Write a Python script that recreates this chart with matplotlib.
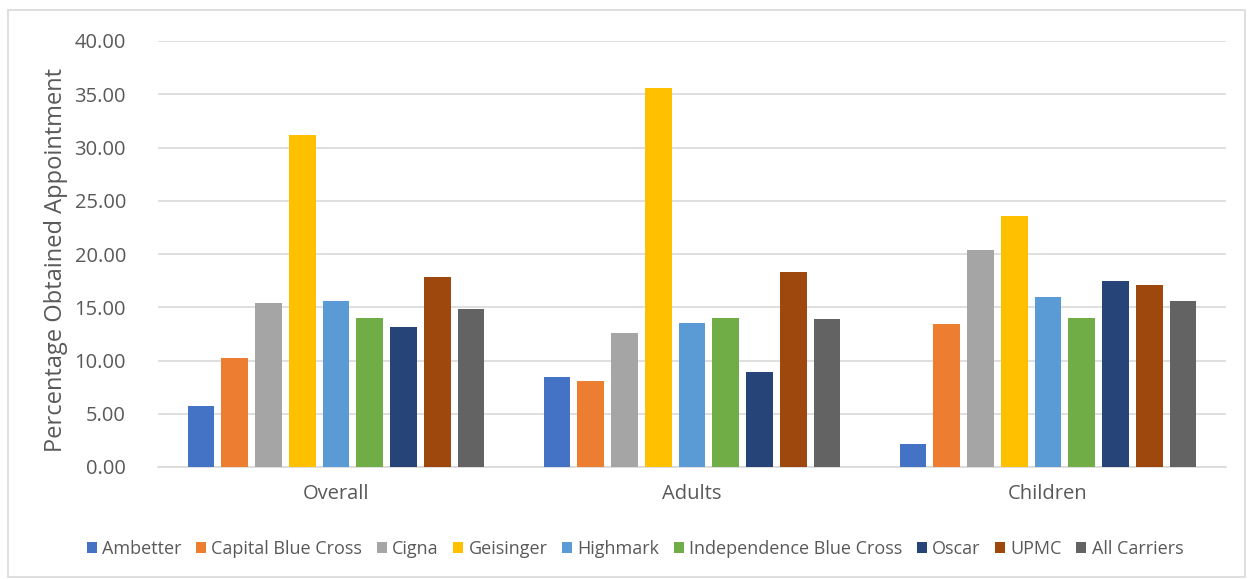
import matplotlib
matplotlib.use("Agg")
import matplotlib.pyplot as plt
import numpy as np
from matplotlib.patches import Rectangle

plt.rcParams['font.family'] = ['Open Sans', 'DejaVu Sans']

categories = ["Overall", "Adults", "Children"]
carriers = ["Ambetter", "Capital Blue Cross", "Cigna", "Geisinger", "Highmark",
            "Independence Blue Cross", "Oscar", "UPMC", "All Carriers"]
ambetter = [5.75, 8.44, 2.19]
capital_blue_cross = [10.28, 8.06, 13.44]
cigna = [15.41, 12.60, 20.35]
geisinger = [31.16, 35.60, 23.53]
highmark = [15.60, 13.56, 16.00]
independence_blue_cross = [14.03, 14.03, 14.00]
oscar = [13.19, 8.88, 17.47]
upmc = [17.85, 18.35, 17.10]
all_carriers = [14.88, 13.91, 15.57]
series = [ambetter, capital_blue_cross, cigna, geisinger, highmark,
          independence_blue_cross, oscar, upmc, all_carriers]
colors = ["#4472C4", "#ED7D31", "#A5A5A5", "#FFC000", "#5B9BD5",
          "#70AD47", "#264478", "#9E480E", "#636363"]
yticks = [0, 5, 10, 15, 20, 25, 30, 35, 40]

fig = plt.figure(figsize=(12.5, 5.79), dpi=100)
fig.patches.append(Rectangle((0.006, 0.004), 0.99, 0.978, transform=fig.transFigure,
                             fill=False, edgecolor="#D9D9D9", linewidth=1.2))
# plot area: x 158..1226, y 41..467 (pixels)
ax = fig.add_axes([158 / 1250, 1 - 467 / 579, 1068 / 1250, 426 / 579])

x = np.arange(len(categories))
pitch = 0.0948
width = 0.075
n = len(series)
for i, (vals, c, lab) in enumerate(zip(series, colors, carriers)):
    ax.bar(x + (i - (n - 1) / 2) * pitch, vals, width=width, color=c, label=lab, zorder=3)

ax.set_ylim(0, 40)
ax.set_xlim(-0.5, 2.5)
ax.set_yticks(yticks)
ax.set_yticklabels([f"{v:.2f}" for v in yticks])
ax.set_xticks(x)
ax.set_xticklabels(categories)
ax.tick_params(axis='both', length=0, labelsize=14.5, colors="#595959")
ax.tick_params(axis='y', pad=23)
ax.tick_params(axis='x', pad=12)
ax.grid(axis='y', color="#D9D9D9", linewidth=1.2, zorder=0)
for s in ["top", "right", "left"]:
    ax.spines[s].set_visible(False)
ax.spines["bottom"].set_color("#D9D9D9")
ax.spines["bottom"].set_linewidth(1.2)
ax.set_ylabel("Percentage Obtained Appointment", fontsize=17, color="#595959")
ax.yaxis.set_label_coords(68 / 1250, 1 - 260 / 579, transform=fig.transFigure)

leg = fig.legend(loc="center", bbox_to_anchor=(635 / 1250, 1 - 549 / 579), ncol=9, frameon=False,
                 fontsize=13, handlelength=0.55, handleheight=0.55, handletextpad=0.3,
                 columnspacing=0.8, labelcolor="#595959")

fig.savefig("out.png", dpi=100)
